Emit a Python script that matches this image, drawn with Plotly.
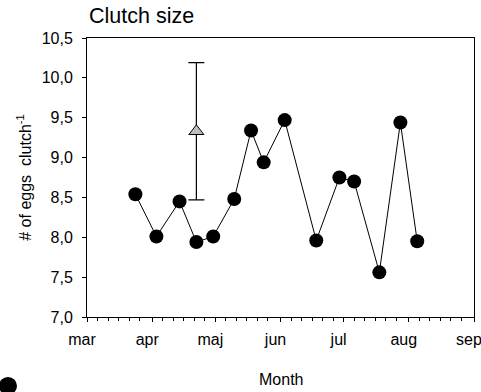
import pandas as pd
import plotly.graph_objects as go

# Clutch size per sampling date (mean # of eggs per clutch)
dates = ["2010-03-24", "2010-04-03", "2010-04-14", "2010-04-22", "2010-04-30",
         "2010-05-10", "2010-05-18", "2010-05-24", "2010-06-03", "2010-06-18",
         "2010-06-29", "2010-07-06", "2010-07-18", "2010-07-28", "2010-08-05"]
clutch = [8.54, 8.01, 8.45, 7.94, 8.01, 8.48, 9.34, 8.94, 9.47, 7.96,
          8.75, 8.70, 7.56, 9.44, 7.95]

# Reference mean with its error
ref_date = ["2010-04-22"]
ref_mean = [9.33]
ref_err = [0.86]

month_starts = ["2010-03-01", "2010-04-01", "2010-05-01", "2010-06-01",
                "2010-07-01", "2010-08-01", "2010-09-01"]
month_labels = ["mar", "apr", "maj", "jun", "jul", "aug", "sep"]

y_ticks = [7.0, 7.5, 8.0, 8.5, 9.0, 9.5, 10.0, 10.5]

# minor ticks every 5 days inside each month
minor_vals = []
for m in pd.to_datetime(month_starts[:-1]):
    for d in (5, 10, 15, 20, 25):
        minor_vals.append((m + pd.Timedelta(days=d)).strftime("%Y-%m-%d"))

font = "Liberation Sans, Arial, sans-serif"

fig = go.Figure()
fig.add_trace(go.Scatter(
    x=dates, y=clutch, mode="lines+markers",
    line=dict(color="black", width=1),
    marker=dict(symbol="circle", size=14, color="black"),
    showlegend=False,
))
fig.add_trace(go.Scatter(
    x=ref_date, y=ref_mean, mode="markers",
    marker=dict(symbol="triangle-up", size=13, color="#bdbdbd",
                line=dict(color="black", width=1)),
    error_y=dict(type="data", array=ref_err, color="black",
                 thickness=1.2, width=8),
    showlegend=False,
))

fig.update_layout(
    width=481, height=392,
    margin=dict(l=87, r=7, t=38, b=75, autoexpand=False),
    paper_bgcolor="white", plot_bgcolor="white",
    separators=",.",
    font=dict(family=font, size=16, color="black"),
    annotations=[
        dict(text="Clutch size", xref="paper", yref="paper", x=0.0, y=1.0,
             xanchor="left", yanchor="middle", yshift=22, showarrow=False,
             font=dict(size=21.5, family=font, color="black")),
        dict(text="Month", xref="paper", yref="paper", x=0.5, y=0,
             xanchor="center", yanchor="middle", yshift=-62, showarrow=False,
             font=dict(size=16, family=font, color="black")),
    ],
    shapes=[
        dict(type="circle", xref="paper", yref="paper",
             x0=-0.2274, x1=-0.1809, y0=-0.2796, y1=-0.215,
             fillcolor="black", line=dict(color="black", width=0)),
    ],
)

fig.update_xaxes(
    type="date",
    range=[month_starts[0], month_starts[-1]],
    tickmode="array", tickvals=month_starts, ticktext=month_labels,
    ticks="outside", ticklen=4, tickcolor="black", tickwidth=1,
    ticklabelshift=-5, ticklabelstandoff=4, ticklabeloverflow="allow",
    automargin=False,
    minor=dict(tickmode="array", tickvals=minor_vals, ticks="outside",
               ticklen=3, tickcolor="black", tickwidth=1),
    showline=True, linecolor="black", linewidth=1, mirror=True,
    showgrid=False, zeroline=False,
    tickfont=dict(size=16, family=font, color="black"),
)
fig.update_yaxes(
    range=[7.0, 10.5], tickmode="array", tickvals=y_ticks, tickformat=".1f",
    ticks="outside", ticklen=4, tickcolor="black", tickwidth=1,
    ticklabelstandoff=6, automargin=False,
    showline=True, linecolor="black", linewidth=1, mirror=True,
    showgrid=False, zeroline=False,
    tickfont=dict(size=16, family=font, color="black"),
    title=dict(text="# of eggs  clutch<sup>-1</sup>", standoff=6,
               font=dict(size=16, family=font, color="black")),
)

fig.write_html("out.html")
